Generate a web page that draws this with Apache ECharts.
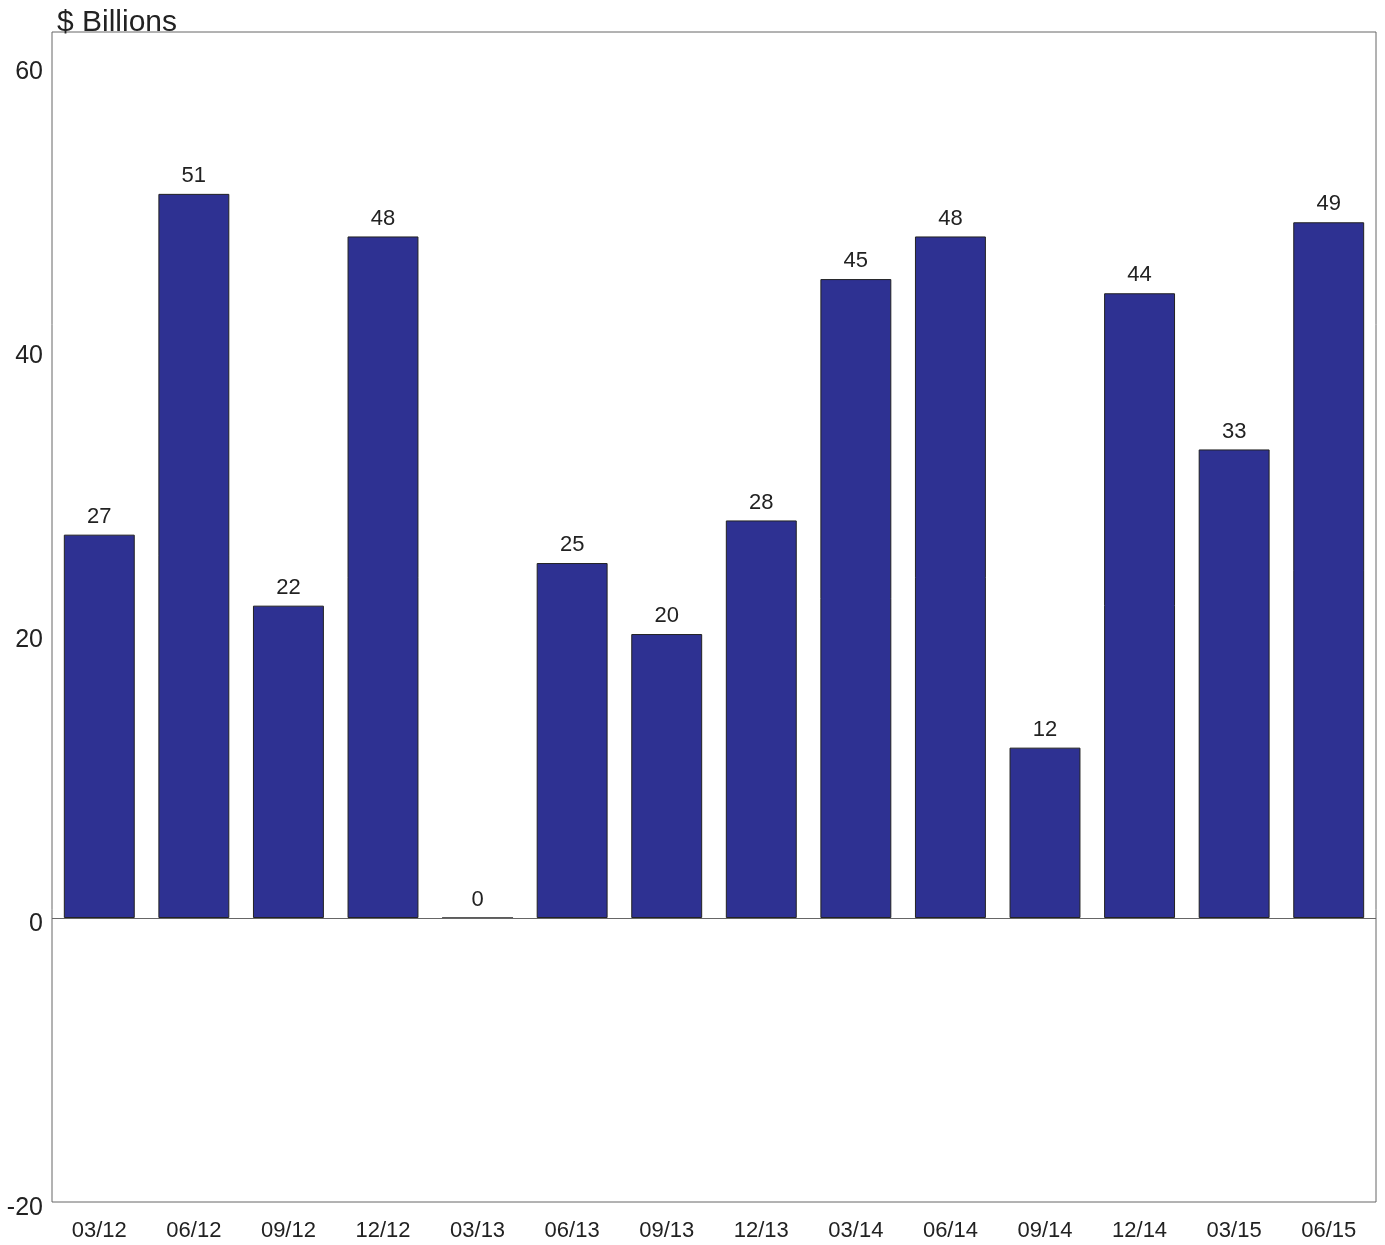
<!DOCTYPE html>
<html><head><meta charset="utf-8">
<script src="https://cdn.jsdelivr.net/npm/echarts@6/dist/echarts.min.js"></script>
<style>html,body{margin:0;padding:0;background:#fff}#c{width:1385px;height:1245px}</style>
</head><body><div id="c"></div>
<script>
const categories = ['03/12','06/12','09/12','12/12','03/13','06/13','09/13','12/13','03/14','06/14','09/14','12/14','03/15','06/15'];
const values = [27,51,22,48,0,25,20,28,45,48,12,44,33,49];
const yTicks = [-20,0,20,40,60];
const FONT = '"Liberation Sans", Arial, sans-serif';
const chart = echarts.init(document.getElementById('c'), null, {renderer:'canvas'});
chart.setOption({
  animation:false,
  backgroundColor:'#fff',
  title:{text:'$ Billions', left:52, top:3, textStyle:{fontFamily:FONT, fontSize:30, fontWeight:'normal', color:'#222'}},
  grid:{left:52, right:9, top:32, bottom:43, show:true, borderColor:'#666', borderWidth:1, backgroundColor:'transparent'},
  xAxis:{type:'category', data:categories, axisLine:{show:false}, axisTick:{show:false},
    axisLabel:{fontFamily:FONT, fontSize:22, color:'#222', margin:18}},
  yAxis:{type:'value', min:-20, max:62.4, interval:20, splitLine:{show:false}, axisLine:{show:false}, axisTick:{show:false},
    axisLabel:{fontFamily:FONT, fontSize:25, color:'#222', margin:9, verticalAlign:'top', lineHeight:12,
      formatter:v=> yTicks.includes(v) ? String(v) : ''}},
  series:[{type:'bar', data:values, barCategoryGap:'25%',
    itemStyle:{color:'#2E3192', borderColor:'#222', borderWidth:1},
    label:{show:true, position:'top', distance:7, fontFamily:FONT, fontSize:22, color:'#222'},
    markLine:{silent:true, symbol:'none', label:{show:false}, lineStyle:{color:'#666', type:'solid', width:1},
      data:[{yAxis:0}]}
  }]
});
</script></body></html>
